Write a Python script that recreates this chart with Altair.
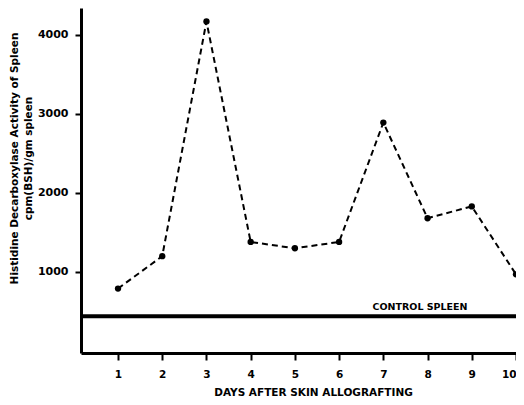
import altair as alt
import pandas as pd

days = [1, 2, 3, 4, 5, 6, 7, 8, 9, 10]
activity = [790, 1200, 4170, 1380, 1300, 1380, 2890, 1680, 1830, 970]
control_value = 440
control_label = "CONTROL SPLEEN"
y_ticks = [1000, 2000, 3000, 4000]
x_ticks = [1, 2, 3, 4, 5, 6, 7, 8, 9, 10]
y_title = ["Histidine Decarboxylase Activity of Spleen", "cpm(BSH)/gm spleen"]
x_title = "DAYS AFTER SKIN ALLOGRAFTING"

df = pd.DataFrame({"day": days, "activity": activity})
ctrl = pd.DataFrame({"value": [control_value], "label": [control_label]})

FONT = "DejaVu Sans"

xscale = alt.Scale(domain=[0.163, 10], nice=False, zero=False)
yscale = alt.Scale(domain=[-25, 4340], nice=False, zero=False)

xaxis = alt.Axis(
    values=x_ticks, title=x_title, grid=False,
    domainColor="black", domainWidth=3, tickColor="black", tickWidth=2, tickSize=7,
    labelFont=FONT, labelFontWeight="bold", labelFontSize=10.5, labelColor="black",
    labelPadding=9, labelFlush=True,
    titleFont=FONT, titleFontWeight="bold", titleFontSize=10.5, titleColor="black",
    titleX=232, titleY=39, titleBaseline="middle",
)
yaxis = alt.Axis(
    values=y_ticks, title=y_title, grid=False, format="d",
    domainColor="black", domainWidth=3, tickColor="black", tickWidth=2, tickSize=6,
    labelFont=FONT, labelFontWeight="bold", labelFontSize=11, labelColor="black",
    labelPadding=7,
    titleFont=FONT, titleFontWeight="bold", titleFontSize=10.5, titleColor="black",
    titleX=-67, titleY=150, titleBaseline="middle", titleAlign="center",
    titleAngle=270, titleLineHeight=14,
)

base = alt.Chart(df)

line = base.mark_line(color="black", strokeWidth=2, strokeDash=[6, 4]).encode(
    x=alt.X("day:Q", scale=xscale, axis=xaxis),
    y=alt.Y("activity:Q", scale=yscale, axis=yaxis),
)
points = base.mark_point(filled=True, color="black", size=40, opacity=1).encode(
    x=alt.X("day:Q", scale=xscale),
    y=alt.Y("activity:Q", scale=yscale),
)

rule = alt.Chart(ctrl).mark_rule(color="black", strokeWidth=4).encode(
    y=alt.Y("value:Q", scale=yscale),
)
label = alt.Chart(ctrl).mark_text(
    font=FONT, fontWeight="bold", fontSize=9.5, color="black", dy=-9
).encode(
    x=alt.datum(7.83),
    y=alt.Y("value:Q", scale=yscale),
    text="label:N",
)

chart = alt.layer(rule, label, line, points).properties(
    width=435, height=345,
    autosize=alt.AutoSizeParams(type="none"),
    padding={"left": 73, "top": 0, "right": 0, "bottom": 47},
).configure_view(stroke=None)

chart.save("out.html", embed_options={"renderer": "svg", "actions": False})
